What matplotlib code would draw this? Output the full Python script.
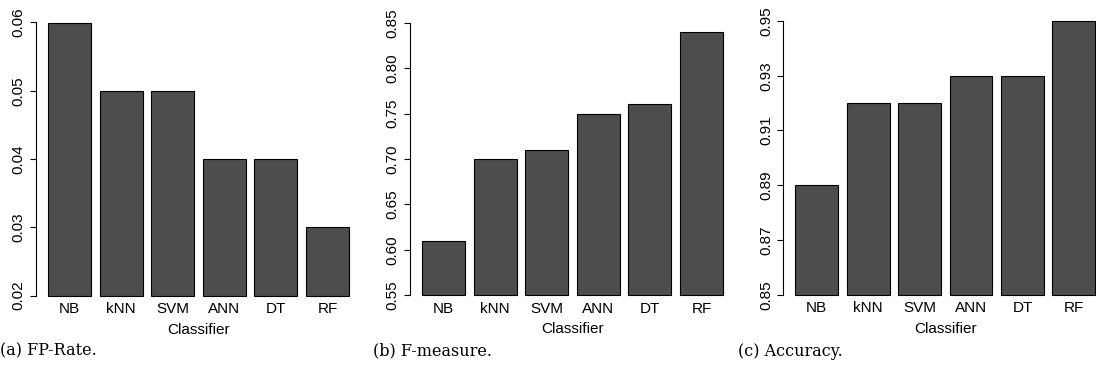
import numpy as np
import matplotlib
matplotlib.use("Agg")
import matplotlib.pyplot as plt

# data
classifiers = ["NB", "kNN", "SVM", "ANN", "DT", "RF"]
fp_rate = [0.06, 0.05, 0.05, 0.04, 0.04, 0.03]
f_measure = [0.61, 0.70, 0.71, 0.75, 0.76, 0.84]
accuracy = [0.89, 0.92, 0.92, 0.93, 0.93, 0.95]

fp_ticks = [0.02, 0.03, 0.04, 0.05, 0.06]
f_ticks = [0.55, 0.60, 0.65, 0.70, 0.75, 0.80, 0.85]
acc_ticks = [0.85, 0.87, 0.89, 0.91, 0.93, 0.95]

captions = ["(a) FP-Rate.", "(b) F-measure.", "(c) Accuracy."]

plt.rcParams["font.family"] = ["Liberation Sans", "DejaVu Sans"]

W, H = 1096, 370
fig = plt.figure(figsize=(W / 100, H / 100), dpi=100)
fig.patch.set_facecolor("white")

# axes pixel boxes: (left, right), data area top/bottom
panels = [
    dict(vals=fp_rate, ticks=fp_ticks, x0=36, x1=361, top=22.5, bot=295.5, cap_x=0),
    dict(vals=f_measure, ticks=f_ticks, x0=410, x1=735, top=22.7, bot=295.3, cap_x=373),
    dict(vals=accuracy, ticks=acc_ticks, x0=783.3, x1=1107.3, top=21, bot=294.7, cap_x=738),
]

centers = 0.7 + 1.2 * np.arange(len(classifiers))

for p, cap in zip(panels, captions):
    ax = fig.add_axes([p["x0"] / W, 1 - p["bot"] / H,
                       (p["x1"] - p["x0"]) / W, (p["bot"] - p["top"]) / H])
    lo, hi = p["ticks"][0], p["ticks"][-1]
    vals = np.array(p["vals"])
    ax.bar(centers, vals - lo, bottom=lo, width=1.0, color="#4d4d4d",
           edgecolor="black", linewidth=0.8, clip_on=False)
    ax.set_xlim(-0.08, 7.48)
    ax.set_ylim(lo, hi)

    for s in ["top", "right", "bottom"]:
        ax.spines[s].set_visible(False)
    ax.spines["left"].set_linewidth(0.8)

    ax.set_yticks(p["ticks"])
    ax.set_yticklabels([f"{t:.2f}" for t in p["ticks"]],
                       rotation=90, va="center", fontsize=11)
    ax.tick_params(axis="y", length=4, width=0.8, pad=3.5)

    ax.set_xticks(centers)
    ax.set_xticklabels(classifiers, fontsize=11)
    ax.tick_params(axis="x", length=0, pad=4.5)
    ax.set_xlabel("Classifier", fontsize=11, labelpad=5)

    fig.text(p["cap_x"] / W, 1 - 351 / H, cap, family="DejaVu Serif",
             fontsize=11.5, ha="left", va="center")

fig.savefig("out.png", dpi=100, facecolor="white")
